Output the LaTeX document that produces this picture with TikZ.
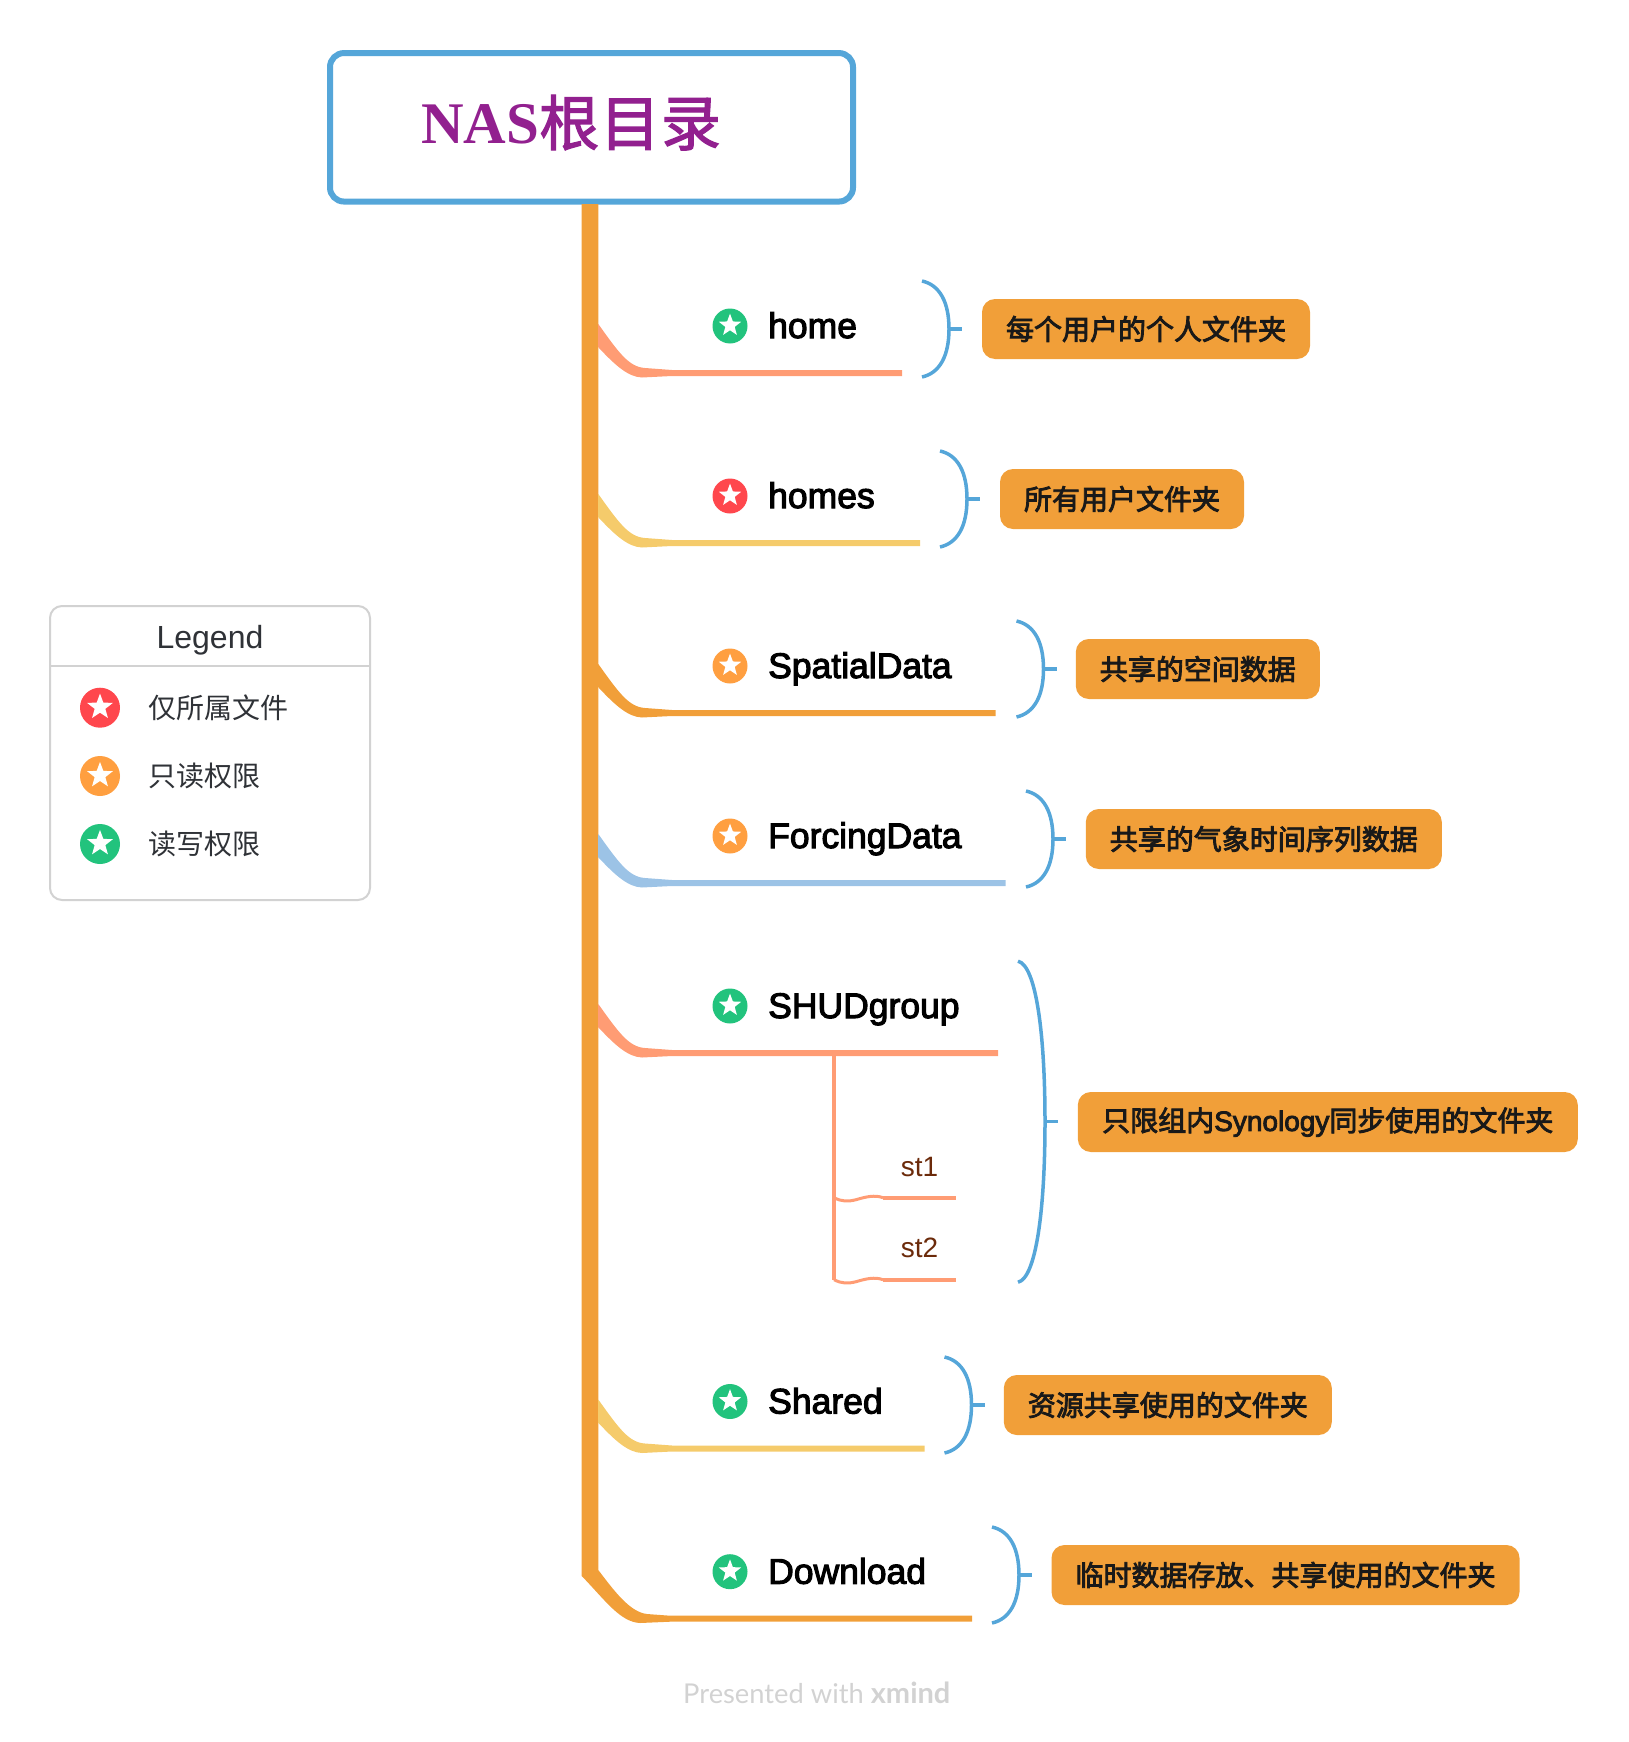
\documentclass[tikz,border=0pt]{standalone}
\usepackage{fontspec}
\usetikzlibrary{shapes.geometric,calc}
\setmainfont{Liberation Sans}
\newfontfamily\cjk{Noto Sans CJK SC}
\newfontfamily\cjkm{Noto Sans CJK SC}[FakeBold=3]
\newfontfamily\cjkt{Noto Sans CJK SC}[FakeBold=2]
\newfontfamily\lbl{Liberation Sans}[FakeBold=3]
\newfontfamily\lblm{Liberation Sans}[FakeBold=3]
\newfontfamily\titlef{Liberation Serif}
\newfontfamily\footf{Lato}
\definecolor{trunk}{HTML}{F19F39}
\definecolor{salmon}{HTML}{FF9C74}
\definecolor{mellow}{HTML}{F5CB6B}
\definecolor{sky}{HTML}{9CC3E6}
\definecolor{brak}{HTML}{55A6D9}
\definecolor{rootc}{HTML}{92208F}
\definecolor{ired}{HTML}{FF474D}
\definecolor{iorange}{HTML}{FF9F40}
\definecolor{igreen}{HTML}{22C37D}
\definecolor{legline}{HTML}{D2D2D2}
\definecolor{legtext}{HTML}{2F3237}
\definecolor{subtext}{HTML}{6B2A0A}
\tikzset{
  rootbox/.style={draw=brak,line width=6,rounded corners=14,fill=white,minimum width=523,minimum height=148.5,inner sep=0},
  titletext/.style={anchor=base west,inner sep=0,text=rootc,font=\fontsize{59}{59}\selectfont},
  iconc/.style={circle,inner sep=0,draw=none},
  starw/.style={star,star points=5,star point ratio=2.4,fill=white,inner sep=0,draw=none},
  toplabel/.style={anchor=base west,inner sep=0,text=black,font=\fontsize{35.5}{35}\lbl},
  sublabel/.style={anchor=base west,inner sep=0,text=subtext,font=\fontsize{28}{28}\selectfont},
  notebox/.style={fill=trunk,rounded corners=13,minimum height=60,inner sep=0,text=black!90,font=\fontsize{28}{28}\cjkm},
  brakline/.style={draw=brak,line width=3.5},
  legtxt/.style={anchor=west,inner sep=0,text=legtext,font=\fontsize{28}{28}\cjk},
}
% name, x, y, colour, diameter, star size
\newcommand{\myicon}[6]{%
  \node[iconc,fill=#4,minimum size=#5] (#1) at (#2,#3) {};
  \node[starw,minimum size=#6] at ($(#1)+(0,-0.6)$) {};
}
% name, underline y, end x, colour
\newcommand{\mybranch}[4]{%
  \coordinate (#1-a) at (599,#2);
  \coordinate (#1-e) at (#3,#2);
  \begin{scope}[shift={(#1-a)}]
    \fill[#4] (-1,-49) -- (0,-48) .. controls (20,-20) and (30,-6) .. (46,-5)
      -- (73,-3) -- ($(#1-e)+(0,-3)$) -- ($(#1-e)+(0,3)$) -- (73,3) -- (43,4.5)
      .. controls (29,4) and (16,-8) .. (0,-25) -- (-1,-26) -- cycle;
  \end{scope}
}
% name, start x, mid y, half height
\newcommand{\mybrak}[4]{%
  \begin{scope}[shift={(#2,#3)}]
    \coordinate (#1-t) at (0,-#4);
    \coordinate (#1-b) at (0,#4);
    \coordinate (#1-m) at (27,0);
    \coordinate (#1-k) at (40,0);
    \draw[brakline] (#1-t) .. controls (18,-#4+4) and (27,-0.55*#4) .. (#1-m)
      .. controls (27,0.55*#4) and (18,#4-4) .. (#1-b);
    \draw[brakline] (#1-m) -- (#1-k);
  \end{scope}
}
\begin{document}
\begin{tikzpicture}[x=1pt,y=-1pt]
\useasboundingbox (0,0) rectangle (1628,1742);
% trunk
\node[rootbox] (root) at (591.5,127.3) {};
\coordinate (tl) at (581.7,204);
\coordinate (tr) at (598.3,204);
\coordinate (dl-e) at (972,1618.7);
\fill[trunk] (tl) -- (581.7,1576) .. controls (605,1600) and (620,1622) .. (640,1623)
  -- (670,1621.7) -- ($(dl-e)+(0,3)$) -- ($(dl-e)+(0,-3)$) -- (670,1615.7) -- (647,1614)
  .. controls (630,1612) and (615,1592) .. (598.3,1570) -- (tr) -- cycle;
\node[titletext] (title) at (421,143.3) {{\titlef\bfseries NAS}{\cjkt\fontsize{60}{60}\selectfont\addfontfeature{LetterSpace=1.5}\raisebox{-2pt}{根目录}}};
% branches
\mybranch{home}{373}{902}{salmon}
\mybranch{homes}{543}{920}{mellow}
\mybranch{spatial}{713}{995.5}{trunk}
\mybranch{forcing}{883}{1005.5}{sky}
\mybranch{shud}{1053}{998}{salmon}
\mybranch{shared}{1448.5}{924.5}{mellow}
% icons
\myicon{ihome}{730}{326}{igreen}{35}{23.5}
\myicon{ihomes}{730}{496}{ired}{35}{23.5}
\myicon{ispatial}{730}{666}{iorange}{35}{23.5}
\myicon{iforcing}{730}{836}{iorange}{35}{23.5}
\myicon{ishud}{730}{1006}{igreen}{35}{23.5}
\myicon{ishared}{730}{1401.5}{igreen}{35}{23.5}
\myicon{idl}{730}{1571.7}{igreen}{35}{23.5}
% labels
\node[toplabel] (lhome) at (768,338) {home};
\node[toplabel] (lhomes) at (768,508) {homes};
\node[toplabel] (lspatial) at (768,678) {SpatialData};
\node[toplabel] (lforcing) at (768,848) {ForcingData};
\node[toplabel] (lshud) at (768,1018) {SHUDgroup};
\node[toplabel] (lshared) at (768,1413.5) {Shared};
\node[toplabel] (ldl) at (768,1583.7) {Download};
% sub branch
\coordinate (sv0) at (834,1053);
\coordinate (sv1) at (834,1197.7);
\coordinate (sv2) at (834,1279.7);
\coordinate (st1a) at (883,1197.7);
\coordinate (st1b) at (956,1197.7);
\coordinate (st2a) at (883,1279.7);
\coordinate (st2b) at (956,1279.7);
\draw[salmon,line width=4] (sv0) -- (sv2);
\draw[salmon,line width=4] (st1a) -- (st1b);
\draw[salmon,line width=4] (st2a) -- (st2b);
\draw[salmon,line width=3] (sv1) .. controls ($(sv1)+(8,4)$) and ($(sv1)+(14,4)$) .. ($(sv1)+(22,2)$)
  .. controls ($(sv1)+(32,-1)$) and ($(st1a)+(-8,-3)$) .. (st1a);
\draw[salmon,line width=3] (sv2) .. controls ($(sv2)+(8,4)$) and ($(sv2)+(14,4)$) .. ($(sv2)+(22,2)$)
  .. controls ($(sv2)+(32,-1)$) and ($(st2a)+(-8,-3)$) .. (st2a);
\node[sublabel] (st1) at (900.7,1176) {st1};
\node[sublabel] (st2) at (900.7,1257.3) {st2};
% brackets
\mybrak{bhome}{922}{329}{48}
\mybrak{bhomes}{940}{499}{48}
\mybrak{bspatial}{1016.5}{669}{48}
\mybrak{bforcing}{1026}{839}{48}
\mybrak{bshud}{1018}{1121.7}{160.5}
\mybrak{bshared}{944.5}{1405}{48}
\mybrak{bdl}{992}{1575}{48}
% notes
\node[notebox,minimum width=328] (nhome) at (1146,329) {每个用户的个人文件夹};
\node[notebox,minimum width=244] (nhomes) at (1122,499) {所有用户文件夹};
\node[notebox,minimum width=244] (nspatial) at (1197.8,669) {共享的空间数据};
\node[notebox,minimum width=356] (nforcing) at (1263.8,839) {共享的气象时间序列数据};
\node[notebox,minimum width=500] (nshud) at (1327.8,1122) {只限组内{\lblm Synology}同步使用的文件夹};
\node[notebox,minimum width=328] (nshared) at (1167.8,1405) {资源共享使用的文件夹};
\node[notebox,minimum width=468] (ndl) at (1285.5,1575) {临时数据存放、共享使用的文件夹};
% legend
\node[draw=legline,line width=2,rounded corners=12,minimum width=320,minimum height=294,inner sep=0] (legend) at (210,753) {};
\coordinate (divl) at (50,666);
\coordinate (divr) at (370,666);
\draw[legline,line width=1.6] (divl) -- (divr);
\node[inner sep=0,text=legtext,font=\fontsize{32}{32}\selectfont] (legt) at (210,640) {Legend};
\myicon{lg1}{100}{707.7}{ired}{40}{27}
\myicon{lg2}{100}{776}{iorange}{40}{27}
\myicon{lg3}{100}{844}{igreen}{40}{27}
\node[legtxt] (lgt1) at (148,707.7) {仅所属文件};
\node[legtxt] (lgt2) at (148,776) {只读权限};
\node[legtxt] (lgt3) at (148,844) {读写权限};
% footer
\node[anchor=base west,inner sep=0,text=legline,font=\fontsize{27.3}{27}\footf] (foot) at (683,1703.5) {Presented with {\fontsize{29}{29}\selectfont\bfseries xmind}};
\end{tikzpicture}
\end{document}
